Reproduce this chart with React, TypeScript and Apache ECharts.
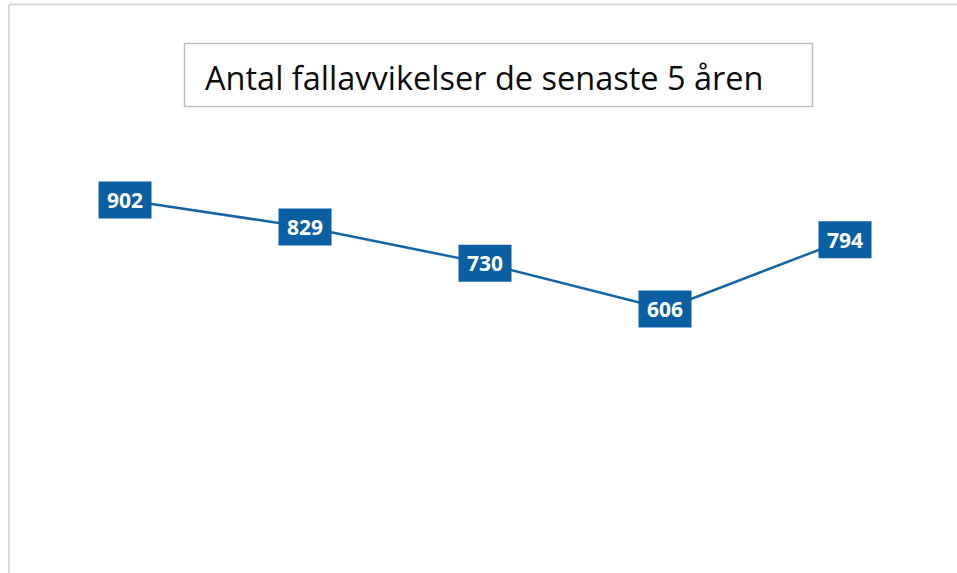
import React, { useEffect, useRef } from "react";
import * as echarts from "echarts";

const categories = ["År 1", "År 2", "År 3", "År 4", "År 5"];
const values = [902, 829, 730, 606, 794];
const titleText = "Antal fallavvikelser de senaste 5 åren";

export default function App() {
  const ref = useRef<HTMLDivElement>(null);
  useEffect(() => {
    if (!ref.current) return;
    const chart = echarts.init(ref.current, null, { renderer: "svg" });
    chart.setOption({
      animation: false,
      backgroundColor: "#ffffff",
      grid: { left: 35, right: 22, top: 164, bottom: 41 },
      xAxis: {
        type: "category",
        data: categories,
        boundaryGap: true,
        show: false,
      },
      yAxis: {
        type: "value",
        min: 0,
        max: 1000,
        show: false,
        splitLine: { show: false },
      },
      graphic: [
        {
          type: "line",
          shape: { x1: 9, y1: 4.5, x2: 957, y2: 4.5 },
          style: { stroke: "#d9d9d9", lineWidth: 2 },
        },
        {
          type: "line",
          shape: { x1: 9, y1: 4.5, x2: 9, y2: 573 },
          style: { stroke: "#d9d9d9", lineWidth: 2 },
        },
        {
          type: "rect",
          shape: { x: 184.5, y: 43.5, width: 628, height: 63 },
          style: { fill: "#ffffff", stroke: "#bfbfbf", lineWidth: 1.5 },
        },
        {
          type: "text",
          x: 205,
          y: 77,
          style: {
            text: titleText,
            fontFamily: "Open Sans",
            fontSize: 32.5,
            fill: "#0d0d0d",
            verticalAlign: "middle",
            align: "left",
          },
        },
      ],
      series: [
        {
          type: "line",
          data: values,
          symbol: "rect",
          symbolSize: [53, 37],
          lineStyle: { color: "#1565a6", width: 2.5 },
          itemStyle: { color: "#0a5fa3" },
          label: {
            show: true,
            position: "inside",
            color: "#ffffff",
            fontFamily: "Open Sans",
            fontWeight: "bold",
            fontSize: 21,
          },
        },
      ],
    });
    return () => chart.dispose();
  }, []);
  return (
    <div
      ref={ref}
      style={{ position: "fixed", left: 0, top: 0, width: 957, height: 573 }}
    />
  );
}
